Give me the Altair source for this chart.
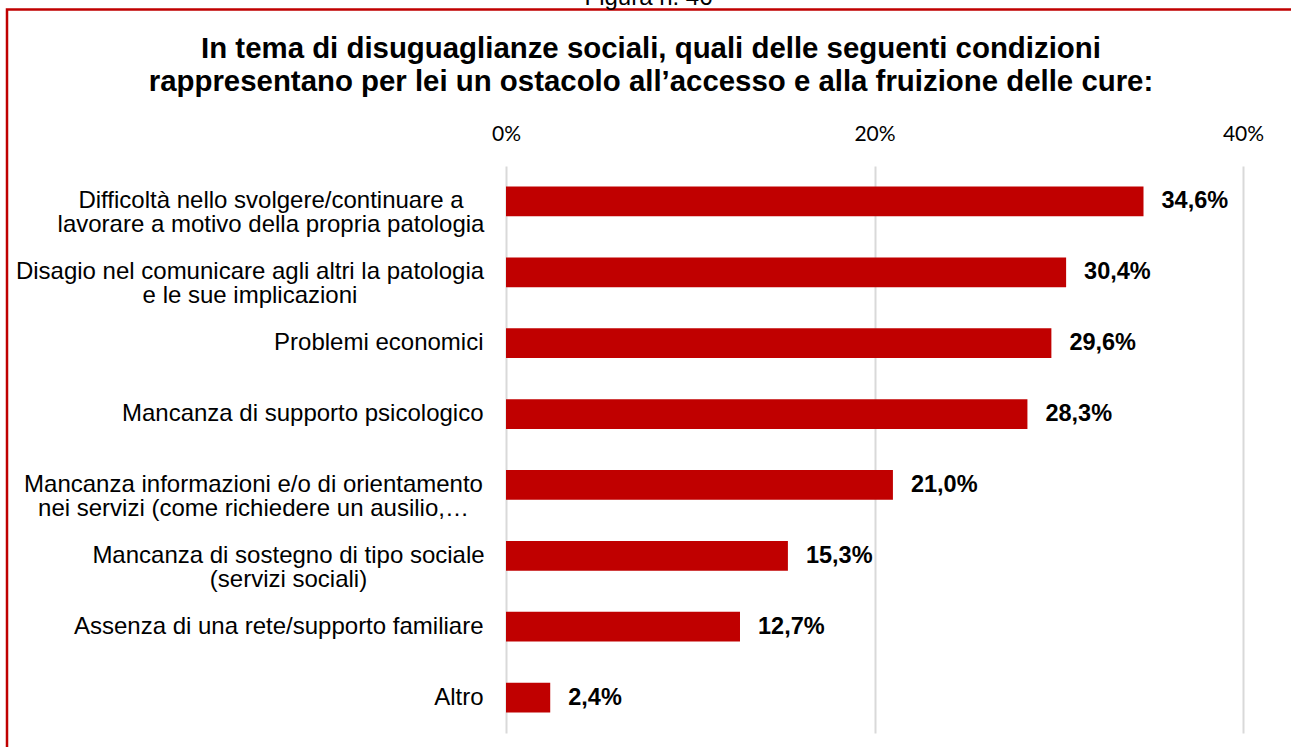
import altair as alt
import pandas as pd

categories = [
    "Difficoltà nello svolgere/continuare a|lavorare a motivo della propria patologia",
    "Disagio nel comunicare agli altri la patologia|e le sue implicazioni",
    "Problemi economici",
    "Mancanza di supporto psicologico",
    "Mancanza informazioni e/o di orientamento|nei servizi (come richiedere un ausilio,…",
    "Mancanza di sostegno di tipo sociale|(servizi sociali)",
    "Assenza di una rete/supporto familiare",
    "Altro",
]
values = [34.6, 30.4, 29.6, 28.3, 21.0, 15.3, 12.7, 2.4]
tick_values = [0, 20, 40]

title_lines = [
    "In tema di disuguaglianze sociali, quali delle seguenti condizioni",
    "rappresentano per lei un ostacolo all’accesso e alla fruizione delle cure:",
]
figure_label = "Figura n. 46"

df = pd.DataFrame({
    "cat": categories,
    "val": values,
    "lab": [f"{v:.1f}".replace(".", ",") + "%" for v in values],
})

RED = "#c00000"
ARIAL = "Liberation Sans, Arial, sans-serif"

# padding for centred multi-line labels (label block right edge aligned with others)
pads = {categories[0]: 235.5, categories[1]: 256.5, categories[4]: 253, categories[5]: 218}
pad_expr = ""
for k, v in pads.items():
    pad_expr += f"datum.value === '{k}' ? {v} : "
pad_expr += "23"
align_expr = "indexof(datum.value, '|') >= 0 ? 'center' : 'right'"

x_scale = alt.Scale(domain=[0, 40], nice=False, zero=True)
y_scale = alt.Scale(paddingInner=0.58, paddingOuter=0.29)

base = alt.Chart(df)

bars = base.mark_bar(color=RED).encode(
    x=alt.X("val:Q", scale=x_scale,
            axis=alt.Axis(orient="top", values=tick_values, labelExpr="datum.value + '%'",
                          title=None, domain=False, ticks=False, tickSize=0,
                          labelFont="Lato", labelFontSize=21, labelColor="#000000",
                          labelPadding=26, labelBaseline="alphabetic",
                          labelFlush=False, labelOverlap=False,
                          grid=True, gridColor="#d9d9d9", gridWidth=2)),
    y=alt.Y("cat:N", sort=categories, scale=y_scale,
            axis=alt.Axis(title=None, domain=False, ticks=False, tickSize=0, grid=False,
                          labelExpr="split(datum.label, '|')",
                          labelFont=ARIAL, labelFontSize=24, labelColor="#000000",
                          labelLineHeight=24, labelLimit=0,
                          labelPadding=alt.ExprRef(pad_expr),
                          labelAlign=alt.ExprRef(align_expr),
                          labelBaseline="middle")),
)

texts = base.mark_text(align="left", baseline="middle", dx=18, font=ARIAL,
                       fontSize=23.5, fontWeight="bold", color="#000000").encode(
    x=alt.X("val:Q", scale=x_scale),
    y=alt.Y("cat:N", sort=categories, scale=y_scale),
    text="lab:N",
)

one = alt.Data(values=[{"k": 1}])

border = alt.Chart(one).mark_rect(filled=False, stroke=RED, strokeWidth=2.5).encode(
    x=alt.value(-499), x2=alt.value(800), y=alt.value(-156.5), y2=alt.value(600)
)

title = alt.Chart(one).mark_text(text=title_lines, font=ARIAL, fontSize=29.4, fontWeight="bold",
                                 lineHeight=33, align="center", baseline="alphabetic",
                                 color="#000000").encode(
    x=alt.value(145), y=alt.value(-108.5)
)

fig = alt.Chart(one).mark_text(text=figure_label, font=ARIAL, fontSize=24, align="center",
                               baseline="alphabetic", color="#000000").encode(
    x=alt.value(142.5), y=alt.value(-161)
)

chart = alt.layer(bars, texts, border, title, fig).properties(
    width=737, height=567,
    autosize=alt.AutoSizeParams(type="none"),
    padding={"left": 506, "top": 166, "right": 48, "bottom": 14},
    background="white",
).configure_view(stroke=None)

chart.save("out.html", embed_options={"renderer": "svg", "actions": False})
